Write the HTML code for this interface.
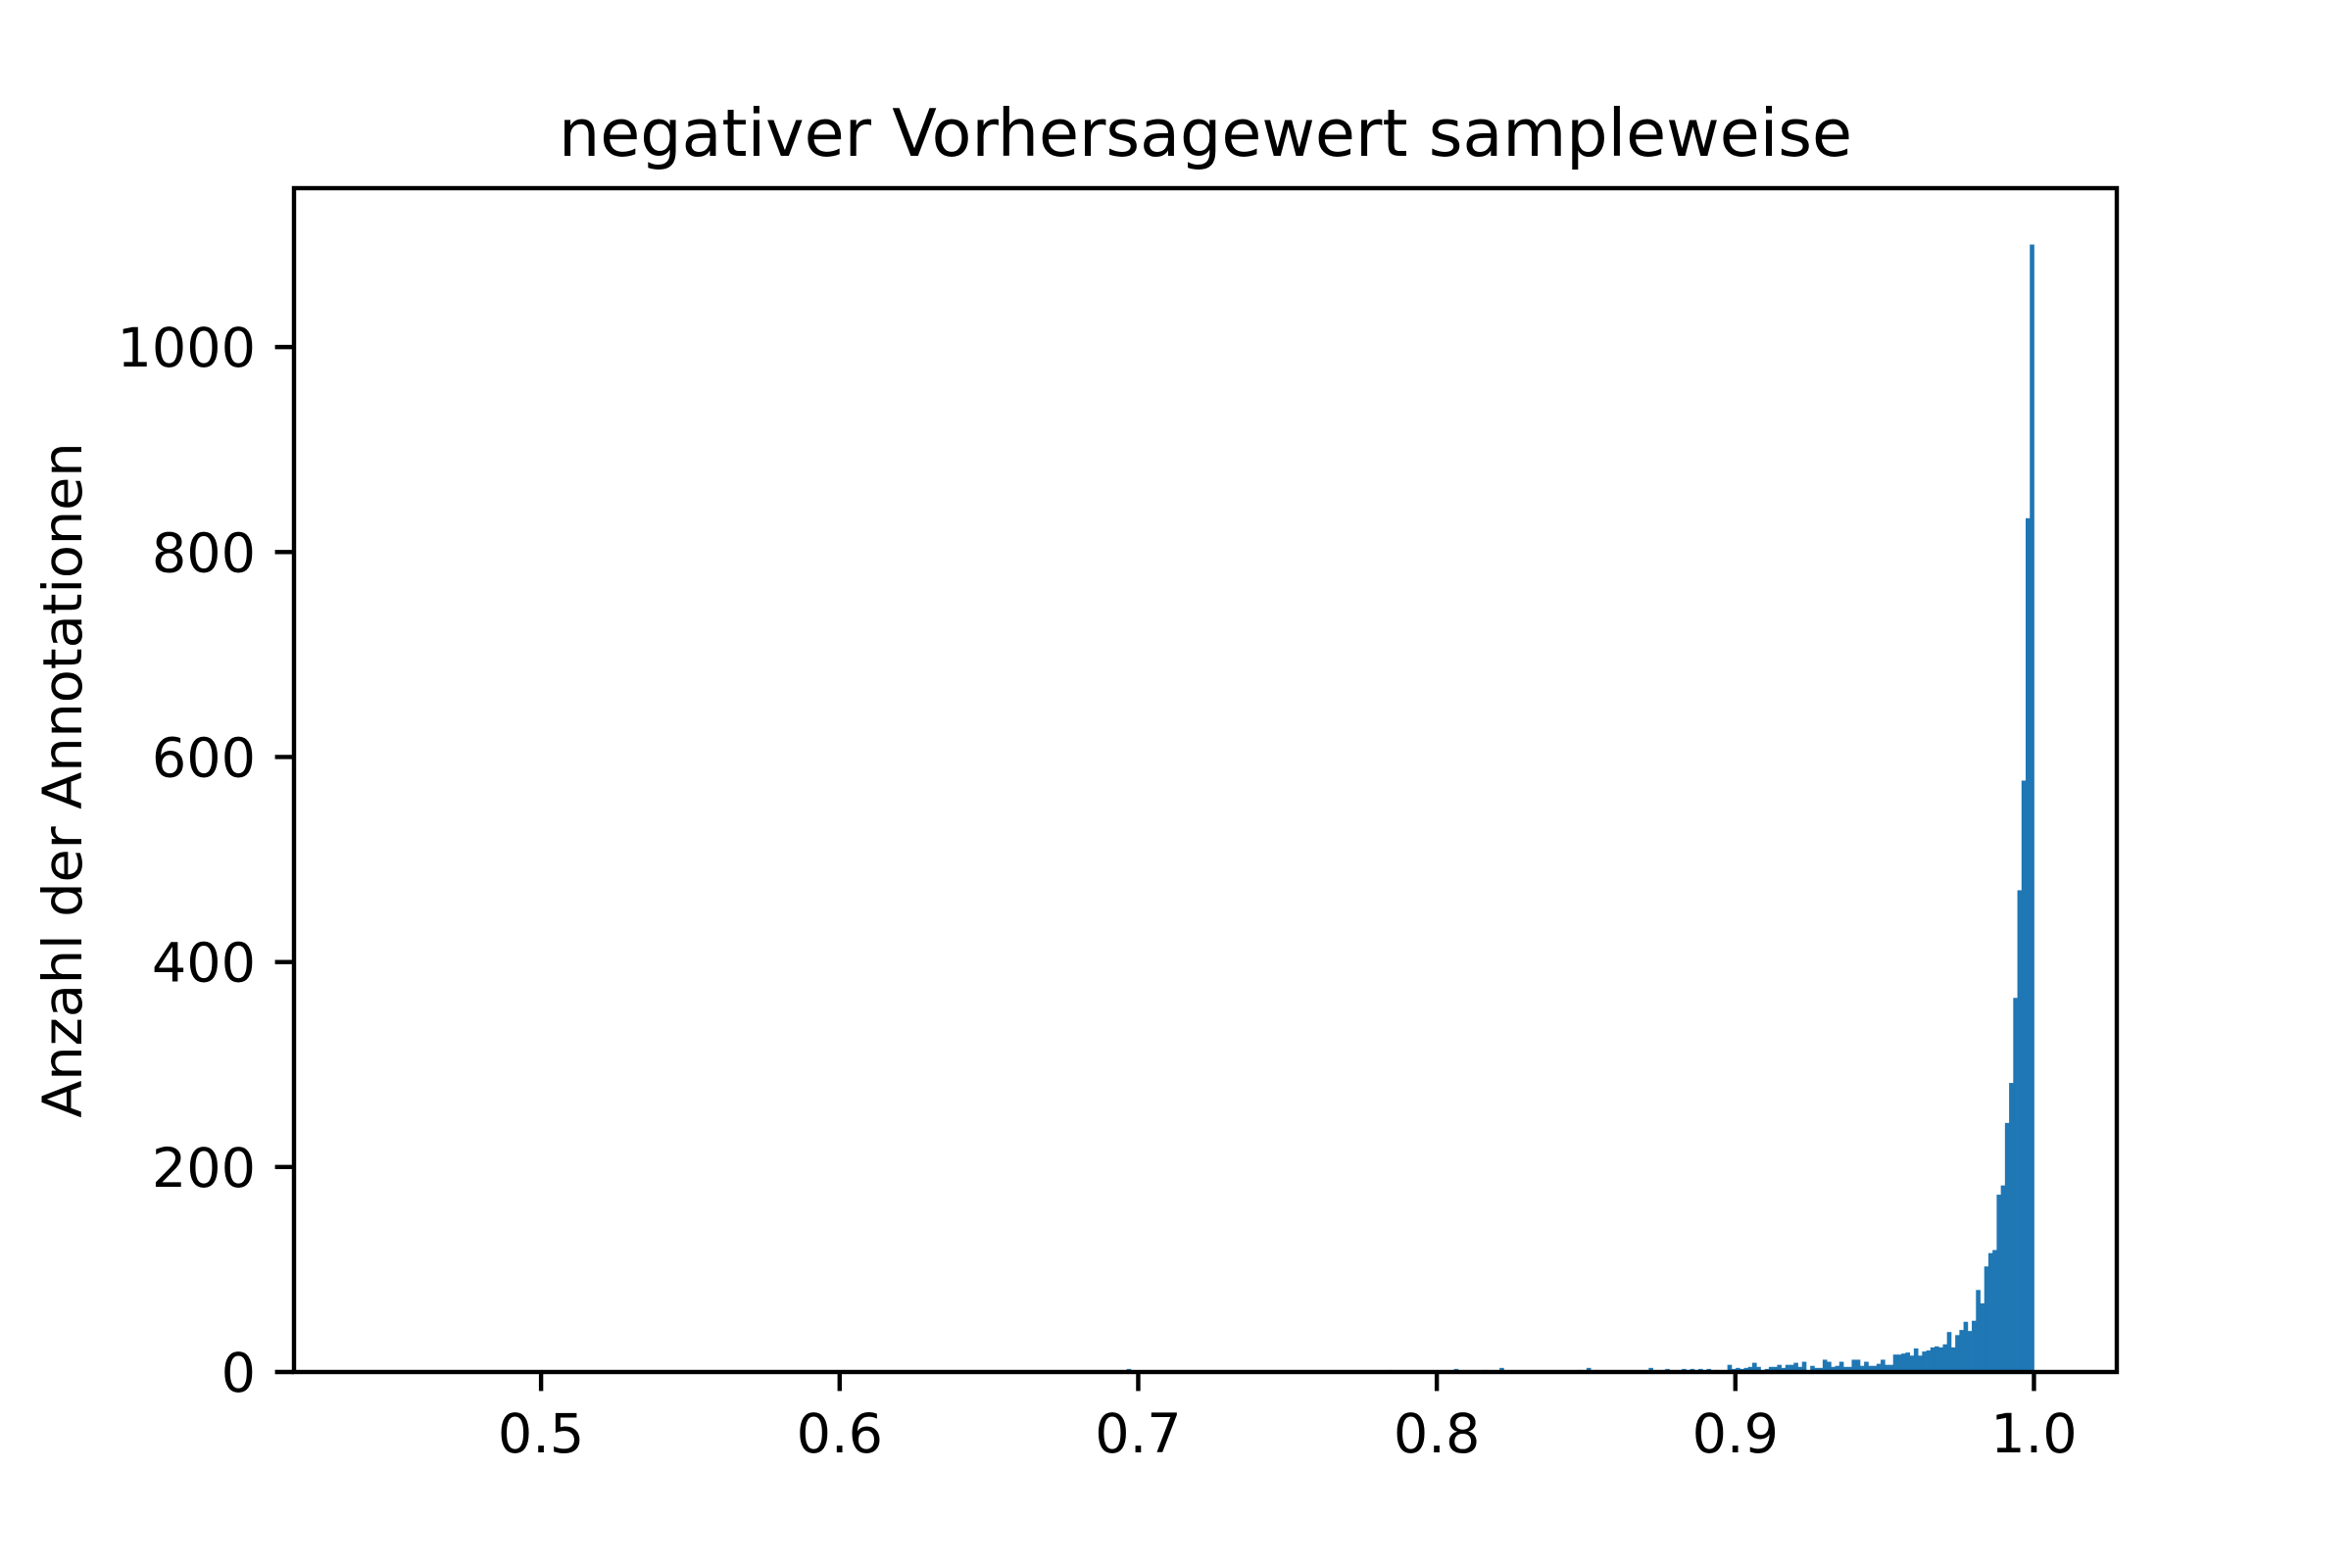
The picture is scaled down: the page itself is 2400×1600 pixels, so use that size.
<!DOCTYPE html>
<html><head><meta charset="utf-8"><style>
html,body{margin:0;padding:0;background:#fff;}
svg{display:block;font-family:"DejaVu Sans","Liberation Sans",sans-serif;}
</style></head><body>
<svg id="chart" width="2400" height="1600" viewBox="0 0 2400 1600" xmlns="http://www.w3.org/2000/svg">
<rect x="0" y="0" width="2400" height="1600" fill="#fff"/>
<text x="1230" y="159" font-size="66.7" text-anchor="middle" fill="#000">negativer Vorhersagewert sampleweise</text>
<g id="bars"></g>
<g id="axes"></g>
<text transform="translate(83,796) rotate(-90)" font-size="55.6" text-anchor="middle" fill="#000">Anzahl der Annotationen</text>
</svg>
<script>
// Histogram data: bin positions counted from the right end (1.0) and their counts
const binFromEnd = [0,1,2,3,4,5,6,7,8,9,10,11,12,13,14,15,16,17,18,19,20,21,22,23,24,25,26,27,28,29,30,31,32,33,34,35,36,37,38,39,40,41,42,43,44,45,46,47,48,49,50,51,52,53,55,56,57,58,59,60,61,62,63,64,66,67,68,69,70,71,72,73,76,78,80,82,84,88,92,94,97,100,105,107,109,117,119,122,128,132,139,142,146,151,155,156,173,181,187,189,218];
const counts = [1100,833,577,470,365,282,243,182,173,119,116,103,67,80,50,40,49,41,36,24,39,27,24,25,24,21,20,16,23,16,19,18,17,17,7,7,12,8,6,6,10,6,12,12,5,5,10,6,5,10,12,4,4,6,10,5,9,7,7,4,7,5,5,3,5,9,5,4,3,4,3,7,2,3,3,3,3,3,4,1,1,1,2,4,2,1,1,1,4,2,3,1,1,1,2,1,1,1,1,1,3];
const xTicks = [0.5,0.6,0.7,0.8,0.9,1.0];
const xTickLabels = ["0.5","0.6","0.7","0.8","0.9","1.0"];
const yTicks = [0,200,400,600,800,1000];
const yTickLabels = ["0","200","400","600","800","1000"];
const numBins = 400, dataMin = 0.445, dataMax = 1.0;

const L=300,R=2160,T=192,B=1400;
const xMin=0.41725, xMax=1.02775, yMin=0, yMax=1155;
const xs = v => L + (v-xMin)/(xMax-xMin)*(R-L);
const ys = v => B - (v-yMin)/(yMax-yMin)*(B-T);
const NS="http://www.w3.org/2000/svg";
const binW=(dataMax-dataMin)/numBins;

const gb=document.getElementById('bars');
for(let j=0;j<counts.length;j++){
  const i=numBins-1-binFromEnd[j];
  const x0=xs(dataMin+i*binW), x1=xs(dataMin+(i+1)*binW);
  const r=document.createElementNS(NS,'rect');
  r.setAttribute('x',x0); r.setAttribute('width',x1-x0+0.4);
  r.setAttribute('y',ys(counts[j])); r.setAttribute('height',ys(0)-ys(counts[j]));
  r.setAttribute('fill','#1f77b4');
  
  
  gb.appendChild(r);
}

const ga=document.getElementById('axes');
const frame=document.createElementNS(NS,'rect');
frame.setAttribute('x',L);frame.setAttribute('y',T);frame.setAttribute('width',R-L);frame.setAttribute('height',B-T);
frame.setAttribute('fill','none');frame.setAttribute('stroke','#000');frame.setAttribute('stroke-width','4.4');


ga.appendChild(frame);

xTicks.forEach((v,k)=>{
  const x=xs(v);
  const t=document.createElementNS(NS,'line');
  t.setAttribute('x1',x);t.setAttribute('x2',x);t.setAttribute('y1',B);t.setAttribute('y2',B+19.4);
  t.setAttribute('stroke','#000');t.setAttribute('stroke-width','4.4');
  
  
  ga.appendChild(t);
  const s=document.createElementNS(NS,'text');
  s.setAttribute('x',x);s.setAttribute('y',1482);s.setAttribute('font-size','55.6');s.setAttribute('text-anchor','middle');
  s.textContent=xTickLabels[k];
  
  
  ga.appendChild(s);
});
yTicks.forEach((v,k)=>{
  const y=ys(v);
  const t=document.createElementNS(NS,'line');
  t.setAttribute('x1',L-19.4);t.setAttribute('x2',L);t.setAttribute('y1',y);t.setAttribute('y2',y);
  t.setAttribute('stroke','#000');t.setAttribute('stroke-width','4.4');
  
  
  ga.appendChild(t);
  const s=document.createElementNS(NS,'text');
  s.setAttribute('x',L-39);s.setAttribute('y',y+20);s.setAttribute('font-size','55.6');s.setAttribute('text-anchor','end');
  s.textContent=yTickLabels[k];
  
  
  ga.appendChild(s);
});
</script>
</body></html>
